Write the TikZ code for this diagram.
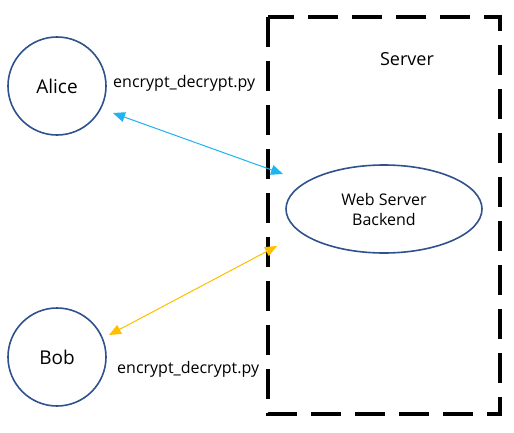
\documentclass[tikz,border=0pt]{standalone}
\usepackage{fontspec}
\setmainfont{Open Sans}
\usetikzlibrary{arrows.meta}
\definecolor{circblue}{HTML}{2F528F}
\definecolor{linkblue}{HTML}{1FB4F0}
\definecolor{linkgold}{HTML}{FFC000}
\tikzset{
  person/.style={circle, draw=circblue, line width=1.6pt, minimum size=98pt, inner sep=0pt, font=\fontsize{19}{22}\selectfont},
  backend/.style={ellipse, draw=circblue, line width=1.6pt, minimum width=196pt, minimum height=88pt, inner sep=0pt, align=center, font=\fontsize{16}{20}\selectfont},
  lbl/.style={font=\fontsize{16}{19}\selectfont, inner sep=0pt},
  servbox/.style={draw=black, line width=3.6pt, dash pattern=on 30pt off 14pt},
  link/.style={line width=1pt, {Triangle[length=12pt,width=10pt]}-{Triangle[length=12pt,width=10pt]}}
}
\usetikzlibrary{shapes.geometric}
\begin{document}
\begin{tikzpicture}[x=1pt,y=-1pt]
\useasboundingbox (0,0) rectangle (514,433);
\draw[servbox] (268,17) rectangle (500,414);
\node[lbl, font=\fontsize{18}{21}\selectfont] (srv) at (407,59) {Server};
\node[person] (alice) at (57,86) {Alice};
\node[person] (bob) at (57,357) {Bob};
\node[backend] (web) at (384,209) {Web Server\\Backend};
\node[lbl, anchor=west] (encA) at (113,83) {encrypt\_decrypt.py};
\node[lbl, anchor=west] (encB) at (117,369) {encrypt\_decrypt.py};
\coordinate (pa) at (113,113);
\coordinate (pw1) at (283,174);
\coordinate (pb) at (109,335);
\coordinate (pw2) at (277,246);
\draw[link, draw=linkblue, fill=linkblue] (pa) -- (pw1);
\draw[link, draw=linkgold, fill=linkgold] (pb) -- (pw2);
\end{tikzpicture}
\end{document}
